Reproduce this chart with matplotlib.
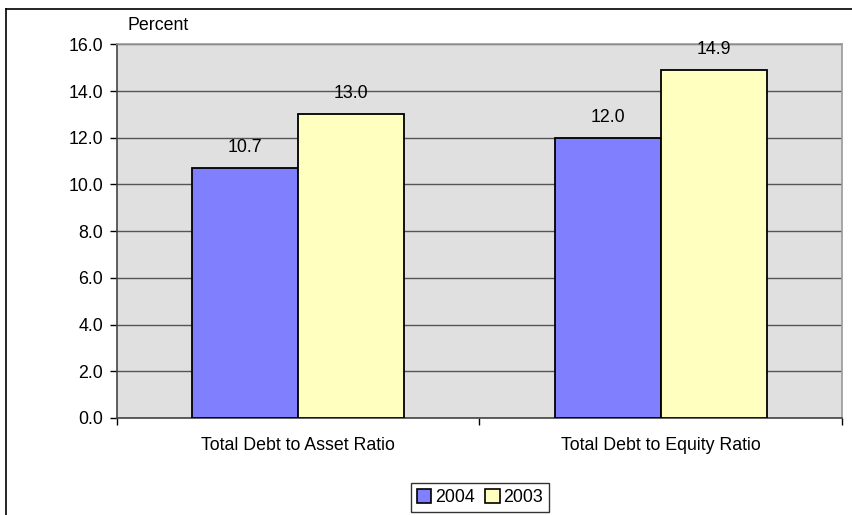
import matplotlib
matplotlib.use("Agg")
import matplotlib.pyplot as plt
from matplotlib.lines import Line2D
from matplotlib.patches import Patch
import numpy as np

categories = ["Total Debt to Asset Ratio", "Total Debt to Equity Ratio"]
series_names = ["2004", "2003"]
values_2004 = [10.7, 12.0]
values_2003 = [13.0, 14.9]
yticks = [0, 2, 4, 6, 8, 10, 12, 14, 16]

plt.rcParams['font.family'] = ['Liberation Sans', 'DejaVu Sans']

FS = 12.8
W, H = 853, 515
fig = plt.figure(figsize=(W / 100, H / 100), dpi=100)
ax = fig.add_axes([117 / W, 1 - 418 / H, (842 - 117) / W, (418 - 44.3) / H])

ax.set_facecolor("#E0E0E0")
x = np.arange(len(categories))
bw = 0.292
c2004 = "#8080FF"
c2003 = "#FFFFC0"
b1 = ax.bar(x - bw / 2, values_2004, bw, color=c2004, edgecolor="black", linewidth=1.3, zorder=3)
b2 = ax.bar(x + bw / 2, values_2003, bw, color=c2003, edgecolor="black", linewidth=1.3, zorder=3)

for bars, vals in ((b1, values_2004), (b2, values_2003)):
    for rect, v in zip(bars, vals):
        ax.annotate(f"{v:.1f}", (rect.get_x() + rect.get_width() / 2, v),
                    xytext=(0, 12), textcoords="offset pixels",
                    ha="center", va="bottom", fontsize=FS, color="black")

ax.set_xlim(-0.5, 1.5)
ax.set_ylim(0, 16)
ax.set_yticks(yticks)
ax.set_yticklabels([f"{t:.1f}" for t in yticks], fontsize=FS)
ax.yaxis.grid(True, color="#555555", linewidth=1.0, zorder=1)
ax.set_axisbelow(True)
ax.tick_params(axis="y", direction="out", length=5, width=1, color="black", pad=5)

ax.set_xticks([-0.5, 0.5, 1.5])
ax.set_xticklabels([])
ax.tick_params(axis="x", direction="out", length=5, width=1, color="black")
for xi, lab in zip(x, categories):
    ax.text(xi, -0.052, lab, transform=ax.get_xaxis_transform(), ha="center", va="top", fontsize=FS)

for s in ("top", "right"):
    ax.spines[s].set_color("#999999")
    ax.spines[s].set_linewidth(1.2)
ax.spines["left"].set_color("#444444")
ax.spines["bottom"].set_color("#444444")
ax.spines["left"].set_linewidth(1.2)
ax.spines["bottom"].set_linewidth(1.2)

fig.text(128 / W, 1 - 26 / H, "Percent", ha="left", va="center", fontsize=FS)

handles = [Patch(facecolor=c2004, edgecolor="black", linewidth=1.2),
           Patch(facecolor=c2003, edgecolor="black", linewidth=1.2)]
leg = fig.legend(handles, series_names, loc="upper center", bbox_to_anchor=(480 / W, 1 - 483 / H),
                 ncol=2, frameon=True, fancybox=False, fontsize=FS,
                 handlelength=0.8, handleheight=0.8, handletextpad=0.2, columnspacing=0.6,
                 borderpad=0.35, borderaxespad=0)
leg.get_frame().set_edgecolor("black")
leg.get_frame().set_linewidth(1.0)

# outer frame (top and left visible)
fig.add_artist(Line2D([6 / W, 1.0], [1 - 9 / H, 1 - 9 / H], transform=fig.transFigure, color="black", linewidth=1.2))
fig.add_artist(Line2D([6 / W, 6 / W], [0, 1 - 9 / H], transform=fig.transFigure, color="black", linewidth=1.2))

fig.savefig("out.png", dpi=100)
